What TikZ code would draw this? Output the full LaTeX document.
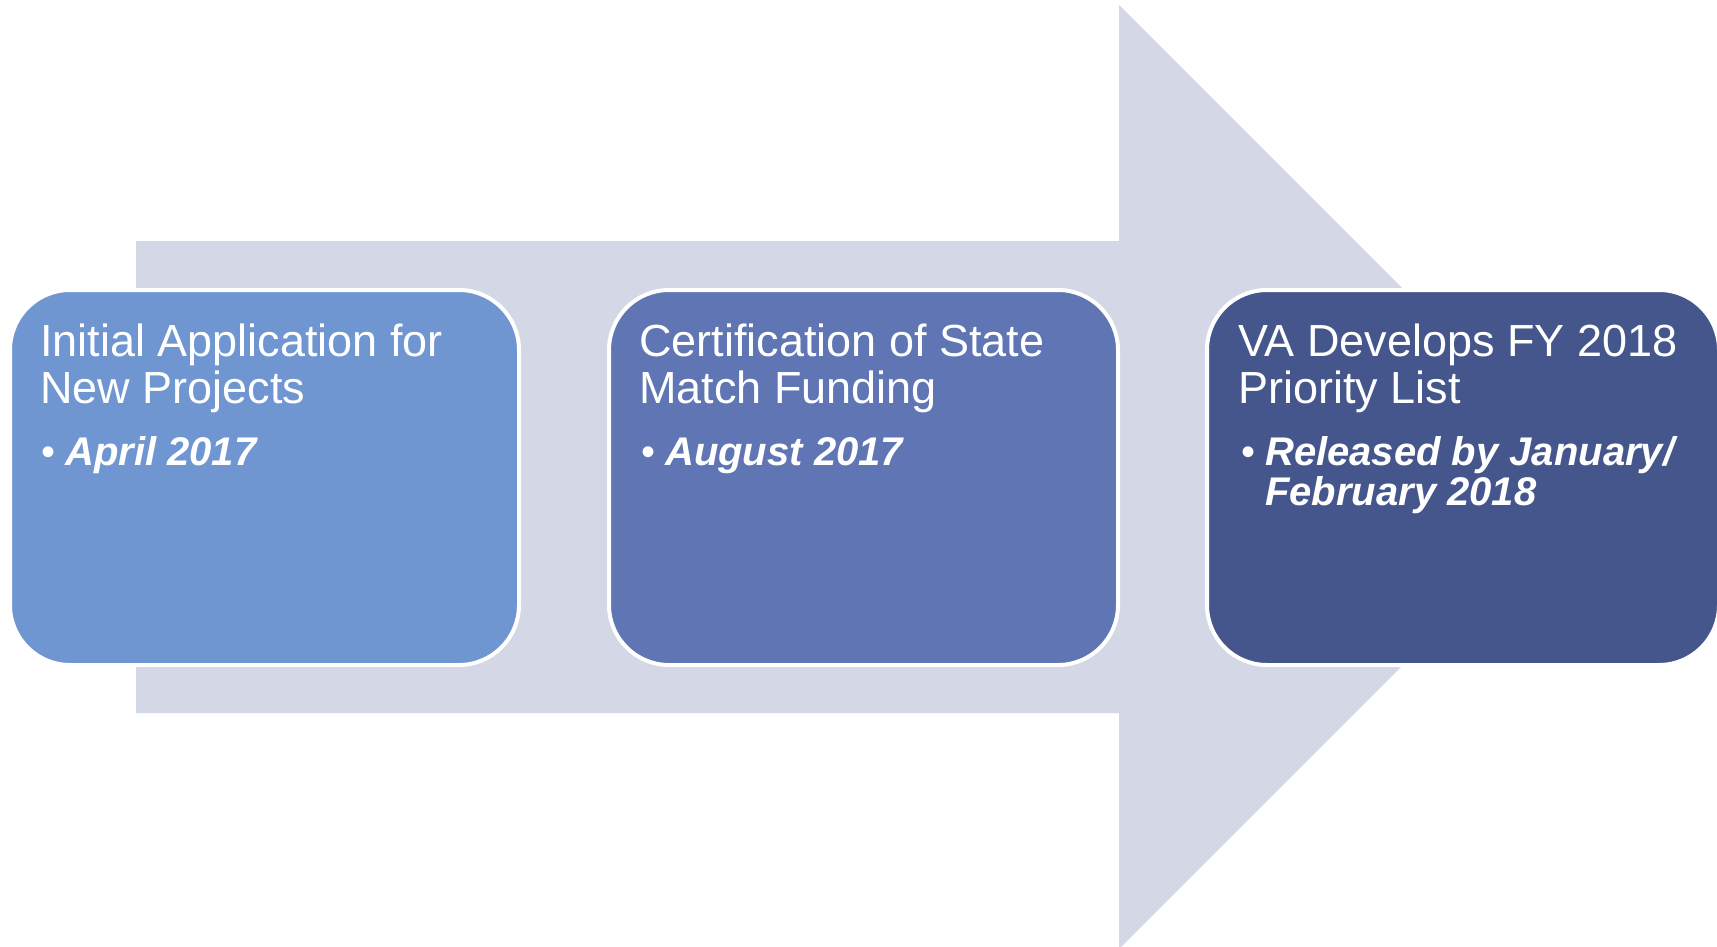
\documentclass[tikz,border=0pt]{standalone}
\usepackage{fontspec}
\setmainfont{Liberation Sans}
\definecolor{arrowc}{HTML}{D3D7E6}
\definecolor{cone}{HTML}{7096D1}
\definecolor{ctwo}{HTML}{6076B4}
\definecolor{cthree}{HTML}{44568C}
\tikzset{
  stepbox/.style={draw=white, line width=4pt, rounded corners=60pt, minimum width=509pt, minimum height=375pt, inner sep=0pt},
  titletxt/.style={anchor=base west, inner sep=0pt, text=white, font=\fontsize{45}{47}\selectfont},
  bullettxt/.style={anchor=base west, inner sep=0pt, text=white, font=\fontsize{40}{41}\selectfont},
  itemtxt/.style={anchor=base west, inner sep=0pt, text=white, font=\fontsize{40}{41}\selectfont\bfseries\itshape}
}
\begin{document}
\begin{tikzpicture}[x=1pt,y=-1pt]
\useasboundingbox (0,0) rectangle (1717,947);
% big arrow
\fill[arrowc] (136,241) -- (1119,241) -- (1119,5) -- (1591,477) -- (1119,949) -- (1119,713) -- (136,713) -- cycle;
% boxes
\node[stepbox, fill=cone] (b1) at (264.5,477.5) {};
\node[stepbox, fill=ctwo] (b2) at (863.5,477.5) {};
\node[stepbox, fill=cthree, minimum width=512pt] (b3) at (1463,477.5) {};
% box 1 text
\node[titletxt] (t1a) at (40,356) {Initial Application for};
\node[titletxt] (t1b) at (40,403) {New Projects};
\node[bullettxt] (u1) at (41,465) {•};
\node[itemtxt] (i1) at (65,465) {April 2017};
% box 2 text
\node[titletxt] (t2a) at (639,356) {Certification of State};
\node[titletxt] (t2b) at (639,403) {Match Funding};
\node[bullettxt] (u2) at (641,465) {•};
\node[itemtxt] (i2) at (665,465) {August 2017};
% box 3 text
\node[titletxt] (t3a) at (1238,356) {VA Develops FY 2018};
\node[titletxt] (t3b) at (1238,403) {Priority List};
\node[bullettxt] (u3) at (1241,465) {•};
\node[itemtxt] (i3a) at (1265,465) {Released by January/};
\node[itemtxt] (i3b) at (1265,505) {February 2018};
\end{tikzpicture}
\end{document}
